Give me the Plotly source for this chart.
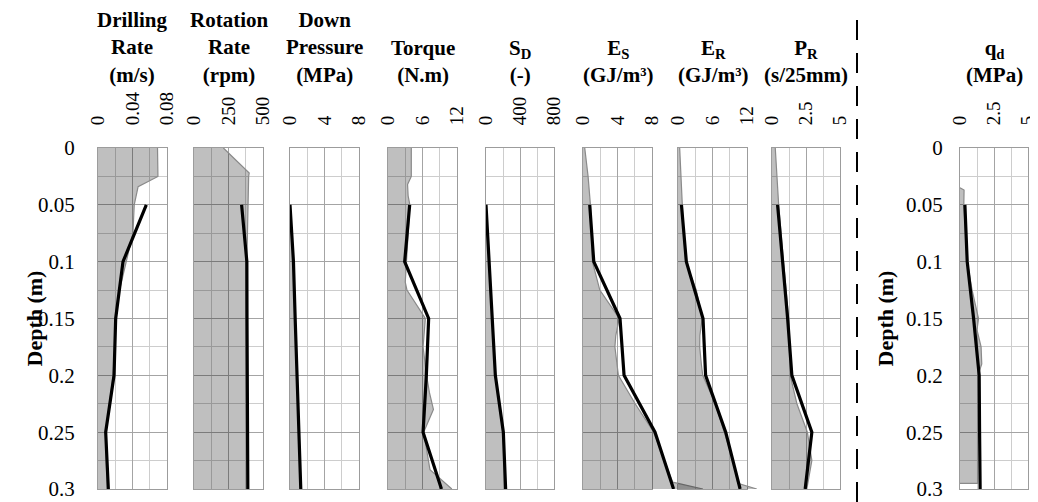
import plotly.graph_objects as go

# ---------------- data ----------------
depth_line = [0.05, 0.1, 0.15, 0.2, 0.25, 0.3]

drill_grey_depth = [0, 0.025, 0.034, 0.05, 0.075, 0.1, 0.125, 0.15, 0.175, 0.2, 0.225, 0.25, 0.275, 0.3]
drill_grey = [0.069, 0.0695, 0.0465, 0.042, 0.0405, 0.033, 0.025, 0.0205, 0.0195, 0.0175, 0.013, 0.009, 0.0095, 0.0108]
drill_line = [0.056, 0.029, 0.0205, 0.0186, 0.0089, 0.012]

rot_grey_depth = [0, 0.022, 0.025, 0.05, 0.1, 0.15, 0.2, 0.25, 0.3]
rot_grey = [213, 400, 396, 392, 383, 383, 384, 385, 390]
rot_line = [345, 383, 384, 385, 386, 390]

press_grey_depth = [0.05, 0.1, 0.15, 0.2, 0.25, 0.3]
press_grey = [0, 0.38, 0.58, 0.78, 0.98, 1.24]
press_line = [0, 0.4, 0.6, 0.8, 1.0, 1.25]

torque_grey_depth = [0, 0.025, 0.032, 0.042, 0.05, 0.075, 0.1, 0.118, 0.125, 0.15, 0.175, 0.2, 0.215, 0.23, 0.25, 0.283, 0.3]
torque_grey = [4.05, 4.05, 3.4, 3.5, 3.8, 3.5, 3.1, 3.0, 3.3, 6.5, 6.1, 6.7, 7.2, 7.9, 6.2, 7.3, 11.1]
torque_line = [3.77, 2.9, 7.07, 6.67, 6.1, 9.3]

sd_grey_depth = [0.05, 0.1, 0.15, 0.2, 0.25, 0.3]
sd_grey = [0, 36, 68, 108, 200, 228]
sd_line = [0, 39, 71, 110, 204, 231]

es_grey_depth = [0, 0.025, 0.05, 0.075, 0.1, 0.125, 0.15, 0.165, 0.175, 0.2, 0.225, 0.25, 0.275, 0.294, 0.3]
es_grey = [0.2, 0.59, 0.86, 0.98, 1.09, 1.95, 4.2, 3.8, 3.7, 4.1, 6.05, 8.2, 9.4, 10.4, 13.9]
es_line = [0.78, 1.25, 4.29, 4.76, 8.35, 10.5]

er_grey_depth = [0, 0.025, 0.05, 0.075, 0.1, 0.125, 0.15, 0.165, 0.175, 0.19, 0.2, 0.225, 0.25, 0.275, 0.295, 0.3]
er_grey = [0.29, 0.58, 0.75, 0.99, 1.33, 3.19, 4.2, 3.8, 3.77, 4.06, 4.3, 6.5, 8.1, 9.6, 10.4, 13.7]
er_line = [0.6, 1.45, 4.35, 4.8, 8.3, 10.8]

pr_grey_depth = [0, 0.025, 0.05, 0.1, 0.15, 0.2, 0.225, 0.25, 0.275, 0.3]
pr_grey = [0.24, 0.37, 0.49, 0.85, 1.22, 1.34, 1.83, 2.6, 2.93, 2.56]
pr_line = [0.41, 0.78, 1.15, 1.46, 2.93, 2.44]

qd_grey_depth = [0.035, 0.037, 0.05, 0.1, 0.125, 0.15, 0.16, 0.175, 0.19, 0.2, 0.25, 0.295, 0.2951]
qd_grey = [0, 0.3, 0.28, 0.53, 0.89, 1.36, 1.25, 1.55, 1.6, 1.32, 1.29, 1.29, 0]
qd_line = [0.36, 0.53, 1.0, 1.41, 1.44, 1.48]

titles = ["Drilling<br>Rate<br>(m/s)", "Rotation<br>Rate<br>(rpm)", "Down<br>Pressure<br>(MPa)",
          "Torque<br>(N.m)", "S<sub>D</sub><br>(-)", "E<sub>S</sub><br>(GJ/m³)",
          "E<sub>R</sub><br>(GJ/m³)", "P<sub>R</sub><br>(s/25mm)", "q<sub>d</sub><br>(MPa)"]
x_max = [0.08, 500, 8, 12, 800, 8, 12, 5, 5]
x_ticktext = [["0", "0.04", "0.08"], ["0", "250", "500"], ["0", "4", "8"], ["0", "6", "12"],
              ["0", "400", "800"], ["0", "4", "8"], ["0", "6", "12"], ["0", "2.5", "5"], ["0", "2.5", "5"]]
depth_ticks = [0, 0.05, 0.1, 0.15, 0.2, 0.25, 0.3]
depth_ticktext = ["0", "0.05", "0.1", "0.15", "0.2", "0.25", "0.3"]

grey_series = [(drill_grey, drill_grey_depth), (rot_grey, rot_grey_depth), (press_grey, press_grey_depth),
               (torque_grey, torque_grey_depth), (sd_grey, sd_grey_depth), (es_grey, es_grey_depth),
               (er_grey, er_grey_depth), (pr_grey, pr_grey_depth), (qd_grey, qd_grey_depth)]
line_series = [drill_line, rot_line, press_line, torque_line, sd_line, es_line, er_line, pr_line, qd_line]

# ---------------- layout geometry ----------------
# The page body keeps an 8px margin on the top/left; the figure starts there
# and runs to the window's right/bottom edge.
PAGE_PAD = 8
WIN_W, WIN_H = 1038, 502
W, H = WIN_W - PAGE_PAD, WIN_H - PAGE_PAD


def px_x(x):
    return min(max((x - PAGE_PAD) / W, 0.0), 1.0)


def px_y(y):
    return min(max(1 - (y - PAGE_PAD) / H, 0.0), 1.0)


left_px = [98, 194, 290, 388, 486, 583, 678, 772, 960]
right_px = [167, 263, 359, 457, 554, 652, 747, 840, 1028]
y_dom = [px_y(489), px_y(148)]
overflow = {5: 712, 6: 768}

SERIF = "Liberation Serif"
MAJOR = "#a4a4a4"
MINOR = "#cdcdcd"
FRAME = "#9c9c9c"
FILL = "rgba(0,0,0,0.25)"
GREYLINE = "#8a8a8a"

fig = go.Figure()
layout = dict(width=W, height=H, margin=dict(l=0, r=0, t=0, b=0, autoexpand=False),
              paper_bgcolor="white", plot_bgcolor="rgba(0,0,0,0)", showlegend=False,
              font=dict(family=SERIF, color="black"))

extra_id = 10
for i in range(9):
    n = i + 1
    sfx = "" if n == 1 else str(n)
    mx = x_max[i]
    layout["xaxis" + sfx] = dict(
        domain=[px_x(left_px[i]), px_x(right_px[i])], range=[0, mx], anchor="y" + sfx, side="top",
        tickvals=[0, mx / 2, mx], ticktext=x_ticktext[i], tickangle=-90, ticks="",
        ticklabelstandoff=18, ticklabeloverflow="allow",
        tickfont=dict(family=SERIF, size=19, color="black"),
        showgrid=True, gridcolor=MAJOR, gridwidth=1, zeroline=False, automargin=False,
        minor=dict(dtick=mx / 4, tick0=0, showgrid=True, gridcolor=MINOR, gridwidth=1, ticks=""),
        showline=True, mirror=True, linecolor=FRAME, linewidth=1, fixedrange=True)
    show_y = n in (1, 9)
    layout["yaxis" + sfx] = dict(
        domain=y_dom, range=[0.3, 0], anchor="x" + sfx,
        tickvals=depth_ticks, ticktext=depth_ticktext, showticklabels=show_y, ticks="",
        ticklabelstandoff=18 if n == 1 else 12, automargin=False, ticklabeloverflow="allow",
        tickfont=dict(family=SERIF, size=21, color="black"),
        showgrid=True, gridcolor=MAJOR, gridwidth=1, zeroline=False,
        minor=dict(dtick=0.025, tick0=0, showgrid=True, gridcolor=MINOR, gridwidth=1, ticks=""),
        showline=True, mirror=True, linecolor=FRAME, linewidth=1, fixedrange=True)

    xa, ya = "x" + sfx, "y" + sfx
    if i in overflow:
        # keep the panel's own subplot (grid + frame) alive with an empty trace
        fig.add_trace(go.Scatter(x=[None], y=[None], mode="lines", xaxis=xa, yaxis=ya, hoverinfo="skip"))
        eid = str(extra_id)
        extra_id += 1
        ext_r = overflow[i]
        ext_range = mx * (ext_r - left_px[i]) / (right_px[i] - left_px[i])
        layout["xaxis" + eid] = dict(domain=[px_x(left_px[i]), px_x(ext_r)], range=[0, ext_range],
                                     anchor="y" + eid, visible=False, fixedrange=True)
        layout["yaxis" + eid] = dict(domain=y_dom, range=[0.3, 0], anchor="x" + eid,
                                     visible=False, fixedrange=True)
        xa, ya = "x" + eid, "y" + eid

    gx, gy = grey_series[i]
    fig.add_trace(go.Scatter(x=gx, y=gy, mode="lines", fill="tozerox", fillcolor=FILL,
                             line=dict(color=GREYLINE, width=1.2), xaxis=xa, yaxis=ya,
                             hoverinfo="skip"))
    fig.add_trace(go.Scatter(x=line_series[i], y=depth_line, mode="lines",
                             line=dict(color="black", width=3.2), xaxis=xa, yaxis=ya))

annotations = []
for i in range(9):
    cx = px_x((left_px[i] + right_px[i]) / 2)
    annotations.append(dict(text="<b>" + titles[i] + "</b>", x=cx, y=px_y(89), xref="paper", yref="paper",
                            xanchor="center", yanchor="bottom", showarrow=False, align="center",
                            font=dict(family=SERIF, size=21, color="black")))
for xpx in (34, 885):
    annotations.append(dict(text="<b>Depth (m)</b>", x=px_x(xpx), y=(y_dom[0] + y_dom[1]) / 2,
                            xref="paper", yref="paper", textangle=-90, showarrow=False,
                            xanchor="center", yanchor="middle",
                            font=dict(family=SERIF, size=22, color="black")))
layout["annotations"] = annotations
layout["shapes"] = [dict(type="line", xref="paper", yref="paper", x0=px_x(857), x1=px_x(857),
                         y0=0, y1=1,
                         line=dict(color="black", width=2, dash="20px,13px"))]

fig.update_layout(**layout)
fig.write_html("out.html")
